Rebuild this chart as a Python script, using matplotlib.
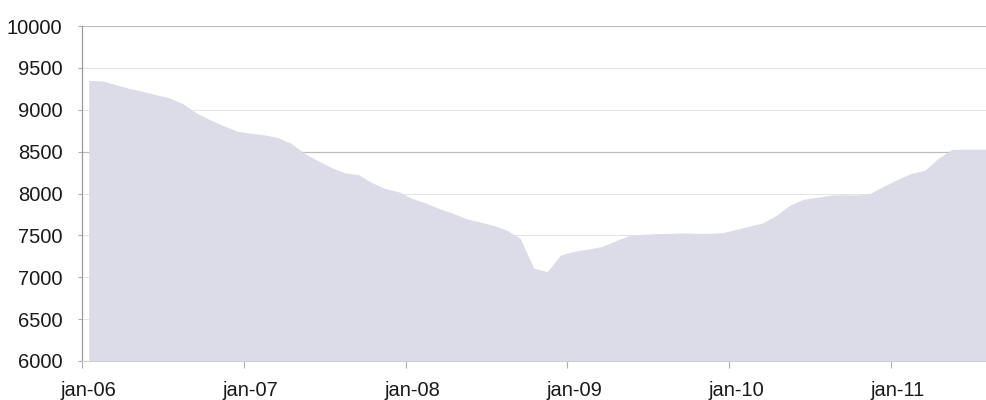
import matplotlib
matplotlib.use("Agg")
import matplotlib.pyplot as plt
import numpy as np

plt.rcParams['font.family'] = ['Liberation Sans', 'DejaVu Sans']

# Monthly series, jan-06 onward
start_year = 2006
values = [
    9350, 9345, 9300, 9255, 9220, 9180, 9140, 9070, 8960, 8880, 8810, 8745,   # 2006
    8720, 8700, 8670, 8600, 8480, 8390, 8310, 8245, 8225, 8130, 8060, 8020,   # 2007
    7940, 7885, 7820, 7765, 7700, 7660, 7620, 7564, 7465, 7110, 7067, 7266,   # 2008
    7310, 7335, 7365, 7430, 7495, 7510, 7520, 7524, 7530, 7524, 7525, 7532,   # 2009
    7570, 7610, 7650, 7740, 7860, 7930, 7955, 7980, 7985, 7982, 8005, 8090,   # 2010
    8170, 8240, 8275, 8420, 8525, 8530, 8530, 8530,                           # 2011
]
tick_labels = ["jan-06", "jan-07", "jan-08", "jan-09", "jan-10", "jan-11"]
y_ticks = [6000, 6500, 7000, 7500, 8000, 8500, 9000, 9500, 10000]

x = np.arange(len(values))

fig = plt.figure(figsize=(9.86, 4.0), dpi=100)
ax = fig.add_axes([82 / 986, 1 - 361 / 400, 1 - 82 / 986, (361 - 26) / 400])

# horizontal gridlines behind the area
for yv in y_ticks[1:]:
    strong = yv in (8500, 10000)
    ax.axhline(yv, color='#bdbdbd' if strong else '#e4e4e4',
               lw=0.9 if strong else 0.7, zorder=0)

ax.fill_between(x, 6000, values, color='#dcdce9', lw=0, zorder=2)

ax.set_ylim(6000, 10000)
ax.set_xlim(-0.5, 66.55)

ax.set_yticks(y_ticks)
ax.set_yticklabels([str(v) for v in y_ticks])

# labels centred on each January, ticks on the category boundaries
ax.set_xticks([12 * i for i in range(len(tick_labels))])
ax.set_xticklabels(tick_labels)
ax.set_xticks([12 * i - 0.5 for i in range(len(tick_labels))], minor=True)
ax.tick_params(axis='x', which='major', length=0, pad=14.5, labelsize=14.5,
               labelcolor='#1a1a1a')
ax.tick_params(axis='x', which='minor', length=5, color='#b0b0b0', width=0.8)
ax.tick_params(axis='y', length=3, color='#b0b0b0', pad=11, labelsize=14.5,
               labelcolor='#1a1a1a')

for side in ('top', 'right'):
    ax.spines[side].set_visible(False)
ax.spines['left'].set_color('#9a9a9a')
ax.spines['left'].set_linewidth(0.9)
ax.spines['bottom'].set_color('#cfcfcf')
ax.spines['bottom'].set_linewidth(0.8)
ax.set_facecolor('white')

fig.savefig("out.png", dpi=100, facecolor='white')
